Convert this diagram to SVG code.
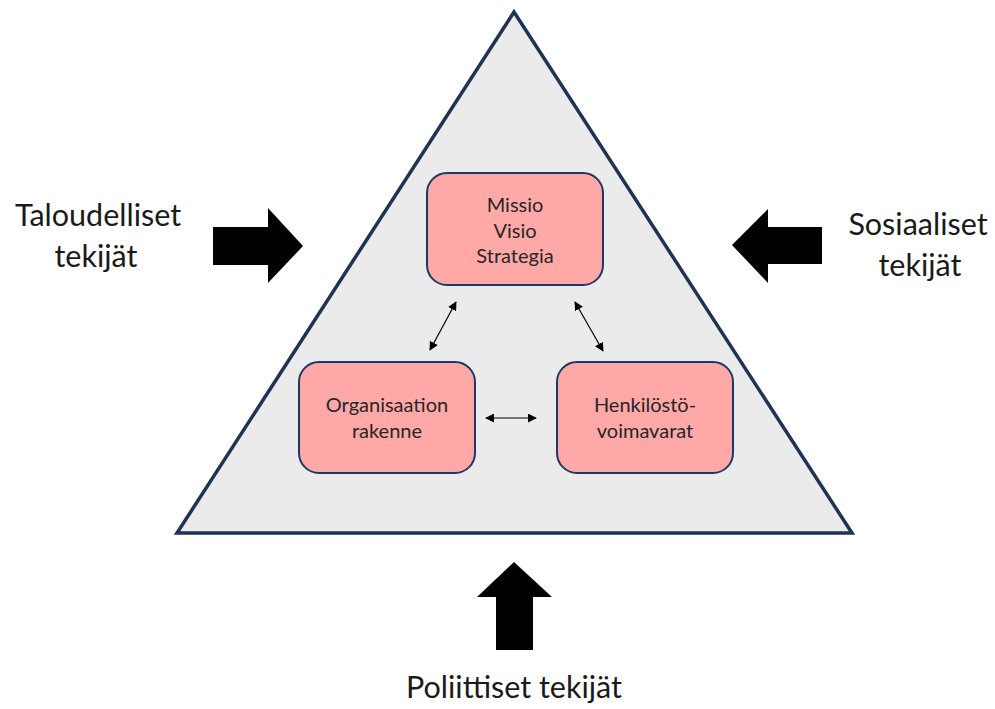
<svg xmlns="http://www.w3.org/2000/svg" width="995" height="709" viewBox="0 0 995 709">
  <style>
    .big { font-family: Lato, "Liberation Sans", sans-serif; font-size: 30.5px; fill: #1a1a1a; text-anchor: middle; }
    .box { fill: #ffa8a8; stroke: #1f3864; stroke-width: 2; }
    .lbl { font-family: Lato, "Liberation Sans", sans-serif; font-size: 20px; fill: #262626; text-anchor: middle; }
    .link { stroke: #000; stroke-width: 1.2; fill: none; marker-start: url(#tip); marker-end: url(#tip); }
    .block { fill: #000; }
  </style>
  <defs>
    <marker id="tip" viewBox="0 0 10 10" refX="9" refY="5" markerWidth="9" markerHeight="9" markerUnits="userSpaceOnUse" orient="auto-start-reverse">
      <path d="M0,0 L10,5 L0,10 Z" fill="#000"/>
    </marker>
  </defs>

  <rect width="995" height="709" fill="#fff"/>

  <!-- environment triangle -->
  <g id="triangle">
    <polygon points="514,12 177,533 852,533" fill="#ebebeb" stroke="#1f3354" stroke-width="3.5" stroke-linejoin="miter"/>
  </g>

  <!-- external factors: block arrows with labels -->
  <g id="taloudelliset">
    <polygon class="block" points="213,227 268,227 268,208 303,246 268,283 268,265 213,265"/>
    <text class="big" x="98" y="226">Taloudelliset</text>
    <text class="big" x="96" y="267">tekijät</text>
  </g>
  <g id="sosiaaliset">
    <polygon class="block" points="822,227 768,227 768,209 732,245 768,283 768,264 822,264"/>
    <text class="big" x="918" y="235">Sosiaaliset</text>
    <text class="big" x="920" y="276">tekijät</text>
  </g>
  <g id="poliittiset">
    <polygon class="block" points="514,562 552,597 533,597 533,650 496,650 496,597 477,597"/>
    <text class="big" x="514" y="698">Poliittiset tekijät</text>
  </g>

  <!-- inner elements -->
  <g id="missio">
    <rect class="box" x="427" y="173" width="176" height="112" rx="20"/>
    <text class="lbl" x="515" y="212">Missio</text>
    <text class="lbl" x="515" y="238">Visio</text>
    <text class="lbl" x="515" y="263">Strategia</text>
  </g>
  <g id="organisaatio">
    <rect class="box" x="299" y="362" width="176" height="111" rx="20"/>
    <text class="lbl" x="387" y="412">Organisaation</text>
    <text class="lbl" x="387" y="438">rakenne</text>
  </g>
  <g id="henkilosto">
    <rect class="box" x="557" y="362" width="176" height="111" rx="20"/>
    <text class="lbl" x="645" y="412">Henkilöstö-</text>
    <text class="lbl" x="645" y="438">voimavarat</text>
  </g>

  <!-- two-way links between inner elements -->
  <g id="connectors">
    <line class="link" x1="430" y1="350" x2="456" y2="302"/>
    <line class="link" x1="575" y1="302" x2="603" y2="351"/>
    <line class="link" x1="486" y1="418" x2="536" y2="418"/>
  </g>
</svg>
